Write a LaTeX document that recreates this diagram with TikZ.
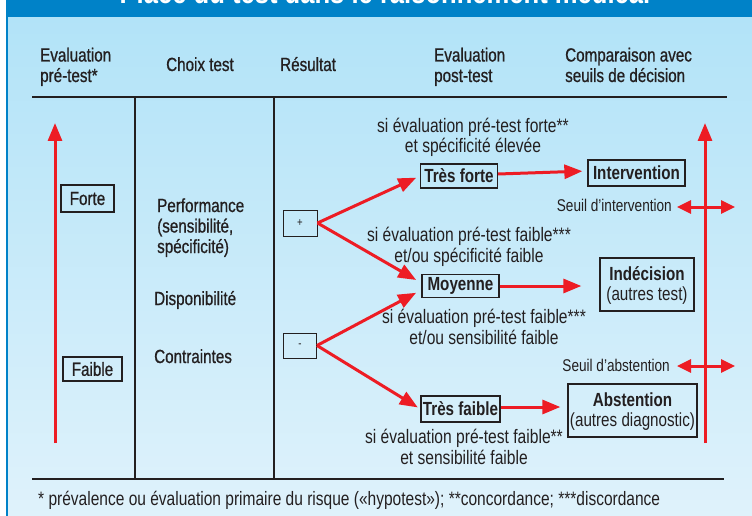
\documentclass[tikz,border=0pt]{standalone}
\usepackage{fontspec}
\setmainfont{Liberation Sans}[FakeStretch=0.8]
\newfontfamily\moyen{Liberation Sans}[FakeStretch=0.8,FakeBold=0.8]
\usepackage{xcolor}
\usetikzlibrary{arrows.meta}

\definecolor{fondhaut}{RGB}{178,227,248}
\definecolor{fondbas}{RGB}{223,242,251}
\definecolor{bandeau}{RGB}{0,130,200}
\definecolor{rouge}{RGB}{237,28,36}
\definecolor{encre}{RGB}{35,31,32}

\tikzset{
  entete/.style={anchor=base west,align=left,inner sep=0,text=encre,font=\moyen\fontsize{19}{20.5}\selectfont},
  cadre/.style={draw=encre,line width=1.3pt,inner sep=0,align=center,text=encre,font=\fontsize{19}{20.5}\selectfont},
  boite/.style={cadre,font=\bfseries\fontsize{19}{20.5}\selectfont},
  condition/.style={anchor=base,align=center,inner sep=0,text=encre,font=\fontsize{19.5}{20.5}\selectfont},
  seuil/.style={anchor=base east,inner sep=0,text=encre,font=\fontsize{17}{19}\selectfont},
  fleche/.style={draw=rouge,line width=3pt,-{Triangle[length=18pt,width=14pt]}},
  double/.style={draw=rouge,line width=3pt,{Triangle[length=14pt,width=13pt]}-{Triangle[length=14pt,width=13pt]}},
  filet/.style={draw=encre,line width=2.5pt},
}

\begin{document}
\begin{tikzpicture}[x=1pt,y=-1pt]
\useasboundingbox (0,0) rectangle (752,516);
% fond et bandeau du titre
\fill[white] (0,0) rectangle (752,516);
\fill[top color=fondhaut,bottom color=fondbas] (8,17) rectangle (752,516);
\fill[bandeau] (6,0) rectangle (752,17);
\fill[bandeau] (6,0) rectangle (8,516);
\begin{scope}
\clip (6,0) rectangle (752,17);
\node (titre) at (385,4) [anchor=base,inner sep=0,text=white,font=\bfseries\fontsize{32}{34}\selectfont] {Place du test dans le raisonnement médical};
\end{scope}

% en-tetes
\node (h1) at (40,82) [entete] {Evaluation\\pré-test*};
\node (h2) at (166,71) [entete] {Choix test};
\node (h3) at (280,71) [entete] {Résultat};
\node (h4) at (434,82) [entete] {Evaluation\\post-test};
\node (h5) at (565,82) [entete] {Comparaison avec\\seuils de décision};

% tableau
\draw[filet] (32,97) -- (727,97);
\draw[filet] (32,479) -- (724,479);
\draw[filet] (135,97) -- (135,479);
\draw[filet] (274,97) -- (274,479);

% evaluation pre-test
\coordinate (basG) at (55,443);
\coordinate (hautG) at (55,123);
\draw[fleche] (basG) -- (hautG);
\node (forte) at (87.5,198.5) [cadre,minimum width=53pt,minimum height=27pt,font=\moyen\fontsize{19}{20.5}\selectfont] {Forte};
\node (faible) at (92.5,369) [cadre,minimum width=59pt,minimum height=24pt,font=\moyen\fontsize{19}{20.5}\selectfont] {Faible};

% choix du test
\node (perf) at (157,253) [entete] {Performance\\(sensibilité,\\spécificité)};
\node (dispo) at (154,305) [entete] {Disponibilité};
\node (contr) at (154,363) [entete] {Contraintes};

% resultat
\node (plus) at (300,223) [cadre,line width=1pt,minimum width=34pt,minimum height=26pt,font=\fontsize{12}{12}\selectfont] {+};
\node (moins) at (300,345.5) [cadre,line width=1pt,minimum width=33pt,minimum height=25pt,font=\fontsize{12}{12}\selectfont] {-};

% evaluation post-test
\node (tresforte) at (459,176) [boite,minimum width=77pt,minimum height=24pt] {Très forte};
\node (moyenne) at (460.5,286) [boite,minimum width=77pt,minimum height=23pt] {Moyenne};
\node (tresfaible) at (460.5,409) [boite,minimum width=79pt,minimum height=26pt] {Très faible};

\node (c1) at (473,153) [condition] {si évaluation pré-test forte**\\et spécificité élevée};
\node (c2) at (469,262) [condition] {si évaluation pré-test faible***\\et/ou spécificité faible};
\node (c3) at (484,344) [condition] {si évaluation pré-test faible***\\et/ou sensibilité faible};
\node (c4) at (464,464) [condition] {si évaluation pré-test faible**\\et sensibilité faible};

\draw[fleche,shorten >=4pt] (plus.east) -- (tresforte.west);
\draw[fleche,shorten >=6pt] (plus.east) -- ([yshift=3pt]moyenne.west);
\draw[fleche,shorten >=6pt] (moins.east) -- ([yshift=-4pt]moyenne.west);
\draw[fleche,shorten >=3pt] (moins.east) -- (tresfaible.west);

% decision
\node (interv) at (636.5,173) [boite,minimum width=97pt,minimum height=26pt] {Intervention};
\node (indec) at (647,284.5) [cadre,minimum width=94pt,minimum height=53pt,text depth=2pt] {\textbf{Indécision}\\(autres test)};
\node (abst) at (632.5,410.5) [cadre,minimum width=129pt,minimum height=53pt,text depth=2pt] {\textbf{Abstention}\\(autres diagnostic)};

\draw[fleche,shorten >=5pt] ([yshift=2pt]tresforte.east) -- ([yshift=2pt]interv.west);
\draw[fleche,shorten >=18pt] (moyenne.east) -- (indec.west |- moyenne.east);
\draw[fleche,shorten >=7pt] ([yshift=2pt]tresfaible.east) -- ([yshift=2pt]abst.west |- tresfaible.east);

% seuils de decision
\coordinate (basD) at (705,443);
\coordinate (hautD) at (705,123);
\draw[fleche] (basD) -- (hautD);
\node (sinterv) at (672,211) [seuil] {Seuil d’intervention};
\coordinate (si1) at (677,207);
\coordinate (si2) at (735,207);
\draw[double] (si1) -- (si2);
\node (sabst) at (670,371) [seuil] {Seuil d’abstention};
\coordinate (sa1) at (677,366);
\coordinate (sa2) at (735,366);
\draw[double] (sa1) -- (sa2);

% note
\node (note) at (38,505) [anchor=base west,inner sep=0,text=encre,font=\fontsize{19.4}{21}\selectfont] {* prévalence ou évaluation primaire du risque («hypotest»); **concordance; ***discordance};
\end{tikzpicture}
\end{document}
